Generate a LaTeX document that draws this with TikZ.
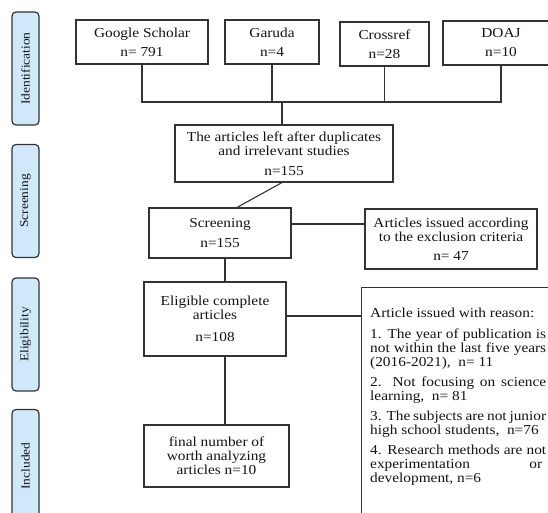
\documentclass[tikz,border=0pt]{standalone}
\usepackage{fontspec}
\setmainfont[FakeStretch=1.12]{Liberation Serif}
\definecolor{sidefill}{HTML}{CFE8FA}
\definecolor{lin}{HTML}{333333}
\definecolor{txt}{HTML}{141414}
\begin{document}
\begin{tikzpicture}[x=1pt,y=-1pt,
  box/.style={draw=lin,line width=1.1pt,rectangle,inner sep=0pt,align=center,text=txt,
    font=\fontsize{13.7}{14}\selectfont},
  side/.style={draw=lin,line width=1.2pt,fill=sidefill,rounded corners=4pt,rotate=90,
    minimum width=113pt,minimum height=27pt,inner sep=0pt,text=txt,
    font=\fontsize{12}{14}\selectfont},
  conn/.style={draw=lin,line width=1.1pt}]
\clip (0,0) rectangle (548,512);
\fill[white] (0,0) rectangle (548,512);
% side labels
\node[side] (sid) at (25.5,68.5) {Identification};
\node[side] (ssc) at (25.5,201) {Screening};
\node[side] (sel) at (25.5,334.5) {Eligibility};
\node[side] (sin) at (25.5,466) {Included};
% top boxes
\node[box,minimum width=132pt,minimum height=44pt] (gs) at (142,42) {Google Scholar\\[5pt]n= 791};
\node[box,minimum width=94pt,minimum height=44pt] (gar) at (272,42) {Garuda\\[5pt]n=4};
\node[box,minimum width=89pt,minimum height=44pt] (cr) at (384.5,44) {Crossref\\[5pt]n=28};
\node[box,minimum width=116pt,minimum height=44pt] (doaj) at (501,43) {DOAJ\\[5pt]n=10};
% articles left
\node[box,minimum width=218pt,minimum height=57pt] (art) at (284,153.5)
  {The articles left after duplicates\\and irrelevant studies\\[6pt]n=155};
\node[box,minimum width=142pt,minimum height=50pt] (scr) at (220,233) {Screening\\[6pt]n=155};
\node[box,minimum width=172pt,minimum height=60pt] (exc) at (451,239)
  {Articles issued according\\to the exclusion criteria\\[5pt]n= 47};
\node[box,minimum width=142pt,minimum height=74pt] (elig) at (215,319)
  {Eligible complete\\articles\\[8pt]n=108};
\node[box,minimum width=145pt,minimum height=62pt] (fin) at (216.5,456)
  {final number of\\worth analyzing\\articles n=10};
\node[box,anchor=north west,minimum width=230pt,minimum height=260pt] (reas) at (361,287) {};
\node[anchor=north west,inner sep=0pt,align=left,text=txt,font=\fontsize{13.7}{14}\selectfont] (reastxt) at (370,307.5)
  {Article issued with reason:\\[7pt]
   \makebox[176pt][s]{1. The year of publication is}\\
   \makebox[176pt][s]{not within the last five years}\\
   (2016-2021),\ \ n= 11\\[6pt]
   \makebox[176pt][s]{2. Not focusing on science}\\
   learning,\ \ n= 81\\[6pt]
   \makebox[176pt][s]{3. The subjects are not junior}\\
   high school students,\ \ n=76\\[6pt]
   \makebox[176pt][s]{4. Research methods are not}\\
   \makebox[172pt][s]{experimentation or}\\
   development, n=6};
% connectors
\coordinate (hl) at (0,102);
\coordinate (vx) at (225,0);
\draw[conn] (gs.south) -- (gs.south |- hl) -- (doaj.south |- hl) -- (doaj.south);
\draw[conn] (gar.south) -- (gar.south |- hl);
\draw[conn] (cr.south) -- (cr.south |- hl);
\draw[conn] ([xshift=-2pt]art.north) -- ([xshift=-2pt]art.north |- hl);
\draw[conn] ([xshift=-2pt]art.south) -- ([xshift=17pt]scr.north);
\draw[conn] ([yshift=9pt]scr.east) -- ([yshift=9pt]scr.east -| exc.west);
\draw[conn] (scr.south -| vx) -- (elig.north -| vx);
\draw[conn] ([yshift=3pt]elig.east) -- ([yshift=3pt]elig.east -| reas.west);
\draw[conn] (elig.south -| vx) -- (fin.north -| vx);
\end{tikzpicture}
\end{document}
